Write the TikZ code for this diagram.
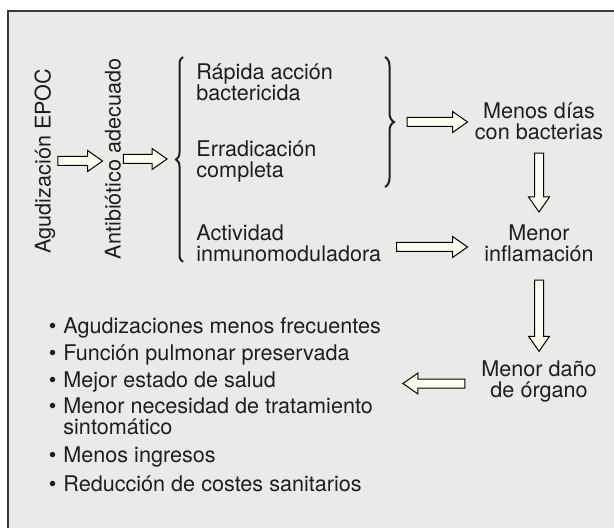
\documentclass[tikz,border=0pt]{standalone}
\usepackage{fontspec}
\setmainfont{TeX Gyre Heros}
\usetikzlibrary{calc,decorations.pathreplacing}

\definecolor{fondo}{RGB}{235,234,232}
\definecolor{crema}{RGB}{255,255,240}
\definecolor{marco}{RGB}{60,60,60}
\definecolor{tinta}{RGB}{30,30,30}

\tikzset{
  txt/.style={font=\fontsize{10.8}{10.6}\selectfont, text=tinta, inner sep=0pt, align=center},
  rot/.style={txt, rotate=90, inner sep=1pt},
  izq/.style={txt, align=left, anchor=west},
  llave/.style={decorate, decoration={brace, amplitude=#1}, line width=1pt, draw=tinta},
  llave/.default=3.5pt,
  blockarrow/.style={draw=black, fill=crema, line width=0.5pt, line join=miter}
}

% flecha hueca de (#1) a (#2)
\newcommand{\flecha}[2]{%
  \coordinate (fs) at (#1);
  \coordinate (fe) at (#2);
  \coordinate (fh) at ($(fe)!7.5pt!(fs)$);
  \draw[blockarrow] ($(fs)!2.25pt!90:(fe)$) -- ($(fh)!2.25pt!90:(fe)$)
    -- ($(fh)!5.25pt!90:(fe)$) -- (fe) -- ($(fh)!5.25pt!-90:(fe)$)
    -- ($(fh)!2.25pt!-90:(fe)$) -- ($(fs)!2.25pt!-90:(fe)$) -- cycle;
}

\begin{document}
\begin{tikzpicture}[x=0.5pt, y=-0.5pt]
\useasboundingbox (0,0) rectangle (614,528);
\fill[white] (0,0) rectangle (614,528);
\fill[fondo] (8,11) rectangle (614,528);
\draw[marco, line width=0.6pt] (8,528) -- (8,11) -- (614,11);

% columna izquierda
\node[rot] (agud) at (45,161) {Agudización EPOC};
\node[rot] (anti) at (113,159) {Antibiótico adecuado};

% llaves
\coordinate (lbtop) at (183,57);
\coordinate (lbbot) at (183,262);
\coordinate (lbtip) at (176,159);
\coordinate (rbtop) at (385,57);
\coordinate (rbbot) at (385,187);
\coordinate (rbtip) at (395,122);
\draw[llave] (lbbot) -- (lbtop);
\draw[llave=4.5pt] (rbtop) -- (rbbot);

\node[izq] (rapida) at (196,82) {Rápida acción\\bactericida};
\node[izq] (errad) at (196,161.5) {Erradicación\\completa};
\node[izq] (activ) at (196,243) {Actividad\\inmunomoduladora};

% columna derecha
\node[txt] (dias) at (539,121) {Menos días\\con bacterias};
\node[txt] (inflam) at (539,243) {Menor\\inflamación};
\node[txt] (dano) at (539,381.5) {Menor daño\\de órgano};

% consecuencias
\foreach \y/\t [count=\i] in {328/{Agudizaciones menos frecuentes},
    355/{Función pulmonar preservada}, 381.5/{Mejor estado de salud},
    416.5/{Menor necesidad de tratamiento\\sintomático},
    457/{Menos ingresos}, 483.5/{Reducción de costes sanitarios}}
  \node[izq] (b\i) at (63,\y) {\llap{•\hspace{3.5pt}}\t};

% flechas
\flecha{agud.south}{agud.south -| anti.north}
\flecha{anti.south}{$(anti.south -| lbtip)+(-9,0)$}
\flecha{$(rbtip)+(12,0)$}{$(rbtip -| dias.west)+(-7,0)$}
\flecha{$(activ.east)+(15,4)$}{$(activ.east -| dias.west)+(-7,4)$}
\flecha{$(dias.south)+(0,13)$}{$(inflam.north)+(0,-12)$}
\flecha{$(inflam.south)+(0,18)$}{$(dano.north)+(0,-9)$}
\flecha{$(dano.west)+(-16,2)$}{$(dano.west)+(-78,2)$}
\end{tikzpicture}
\end{document}
